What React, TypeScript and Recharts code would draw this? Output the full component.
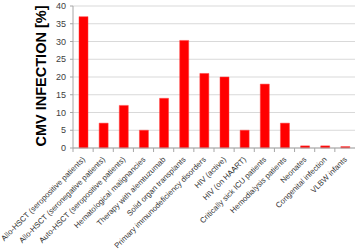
import { BarChart, Bar, XAxis, YAxis, CartesianGrid } from "recharts";

const categories = [
  "Allo-HSCT (seropositive patients)",
  "Allo-HSCT (seronegative patients)",
  "Auto-HSCT (seropositive patients)",
  "Hematological malignancies",
  "Therapy with alemtuzumab",
  "Solid organ transplants",
  "Primary immunodeficiency disorders",
  "HIV (active)",
  "HIV (on HAART)",
  "Critically sick ICU patients",
  "Hemodialysis patients",
  "Neonates",
  "Congenital infection",
  "VLBW infants",
];

const infection = [37, 7, 12, 5, 14, 30.3, 21, 20, 5, 18, 7, 0.6, 0.6, 0.4];

const yTicks = [0, 5, 10, 15, 20, 25, 30, 35, 40];

const data = categories.map((name, i) => ({ name, value: infection[i] }));

const W = 359;
const H = 251;
const PLOT_LEFT = 73;
const PLOT_RIGHT = 4;
const BAND = (W - PLOT_LEFT - PLOT_RIGHT) / categories.length;
const FONT = "Liberation Sans, Arial, sans-serif";
// recharts puts the tick text at axis + tickSize + tickMargin
const X_TICK_SIZE = 4;
const X_TICK_MARGIN = 0;

function CategoryTick(props: any) {
  const { x, y, payload } = props;
  const axisY = y - X_TICK_SIZE - X_TICK_MARGIN;
  const tx = x + 2.5;
  const ty = axisY + 12;
  return (
    <g>
      <line x1={x - BAND / 2} y1={axisY} x2={x - BAND / 2} y2={axisY + 4} stroke="#a6a6a6" />
      <text
        x={tx}
        y={ty}
        transform={`rotate(-45 ${tx} ${ty})`}
        textAnchor="end"
        style={{ fontSize: "7.8px", fontFamily: FONT }}
        fill="#333"
      >
        {payload.value}
      </text>
    </g>
  );
}

export default function App() {
  return (
    <div style={{ position: "absolute", left: 0, top: 0, width: W, height: H, background: "#fff" }}>
      <BarChart
        width={W}
        height={H}
        data={data}
        margin={{ top: 6, right: PLOT_RIGHT, left: 0, bottom: 0 }}
        barSize={9}
      >
        <CartesianGrid vertical={false} stroke="#d9d9d9" />
        <XAxis
          dataKey="name"
          interval={0}
          height={103}
          axisLine={{ stroke: "#a6a6a6" }}
          tickLine={false}
          tickSize={X_TICK_SIZE}
          tickMargin={X_TICK_MARGIN}
          tick={<CategoryTick />}
        />
        <YAxis
          width={PLOT_LEFT}
          domain={[0, 40]}
          ticks={yTicks}
          interval={0}
          axisLine={{ stroke: "#a6a6a6" }}
          tickLine={{ stroke: "#a6a6a6" }}
          tickSize={3}
          tickMargin={4}
          tick={{ fontSize: 9, fill: "#404040", fontFamily: FONT }}
          label={{
            value: "CMV INFECTION [%]",
            angle: -90,
            position: "insideLeft",
            dx: 36,
            dy: -1,
            style: {
              fontSize: 14.5,
              fontWeight: "bold",
              fill: "#000",
              fontFamily: FONT,
              textAnchor: "middle",
            },
          }}
        />
        <Bar dataKey="value" fill="#ff0000" stroke="#ff4040" strokeWidth={0.5} isAnimationActive={false} />
      </BarChart>
    </div>
  );
}
